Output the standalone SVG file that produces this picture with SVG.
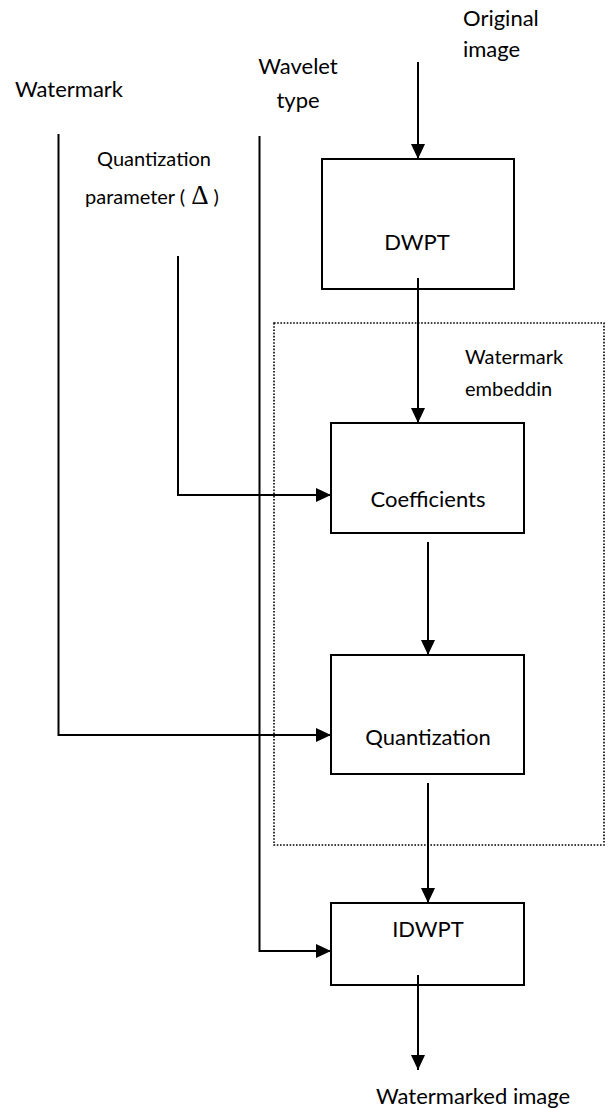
<svg xmlns="http://www.w3.org/2000/svg" width="608" height="1108" viewBox="0 0 608 1108">
<style>
text{font-family:Lato,"Liberation Sans",sans-serif;fill:#000;font-size:22px}
.box{fill:none;stroke:#000;stroke-width:2}
.grp{fill:none;stroke:#000;stroke-width:1.6;stroke-dasharray:1.6 1.6}
.c{fill:none;stroke:#000;stroke-width:2}
.m{text-anchor:middle}
.sm{font-size:20px}
.d{font-family:"Liberation Serif",serif;font-size:27px}
</style>
<defs>
<marker id="ah" markerUnits="userSpaceOnUse" markerWidth="15" markerHeight="14" refX="15" refY="7" orient="auto">
<path d="M0,0 L15,7 L0,14 z" fill="#000"/>
</marker>
</defs>
<rect width="608" height="1108" fill="#fff"/>
<g id="embedding">
<rect class="grp" x="274" y="323" width="330" height="522"/>
<text class="sm" x="465" y="364">Watermark</text>
<text class="sm" x="465" y="396">embeddin</text>
</g>
<g id="in-watermark"><text x="15" y="97">Watermark</text></g>
<g id="in-wavelet"><text class="m" x="298" y="74">Wavelet</text><text class="m" x="298" y="108">type</text></g>
<g id="in-original"><text x="463" y="26">Original</text><text x="463" y="57">image</text></g>
<g id="in-delta"><text class="m sm" x="154" y="166">Quantization</text><text class="sm" x="85" y="204">parameter (<tspan class="d" dx="6">Δ</tspan><tspan dx="5">)</tspan></text></g>
<g id="dwpt"><rect class="box" x="322" y="159" width="192" height="130"/><text class="m" x="417" y="250">DWPT</text></g>
<g id="coefficients"><rect class="box" x="331" y="423" width="193" height="110"/><text class="m" x="428" y="507">Coefficients</text></g>
<g id="quantization"><rect class="box" x="331" y="655" width="193" height="119"/><text class="m" x="428" y="745">Quantization</text></g>
<g id="idwpt"><rect class="box" x="331" y="903" width="193" height="82"/><text class="m" x="428" y="937">IDWPT</text></g>
<g id="out-watermarked"><text x="376" y="1104">Watermarked image</text></g>
<g id="connectors">
<path class="c" d="M418,62 V159" marker-end="url(#ah)"/>
<path class="c" d="M418,278 V423" marker-end="url(#ah)"/>
<path class="c" d="M178,256 V495 H331" marker-end="url(#ah)"/>
<path class="c" d="M428,542 V655" marker-end="url(#ah)"/>
<path class="c" d="M58.5,134 V735 H331" marker-end="url(#ah)"/>
<path class="c" d="M428,783 V903" marker-end="url(#ah)"/>
<path class="c" d="M259.5,136 V951 H331" marker-end="url(#ah)"/>
<path class="c" d="M418,975 V1070" marker-end="url(#ah)"/>
</g>
</svg>
